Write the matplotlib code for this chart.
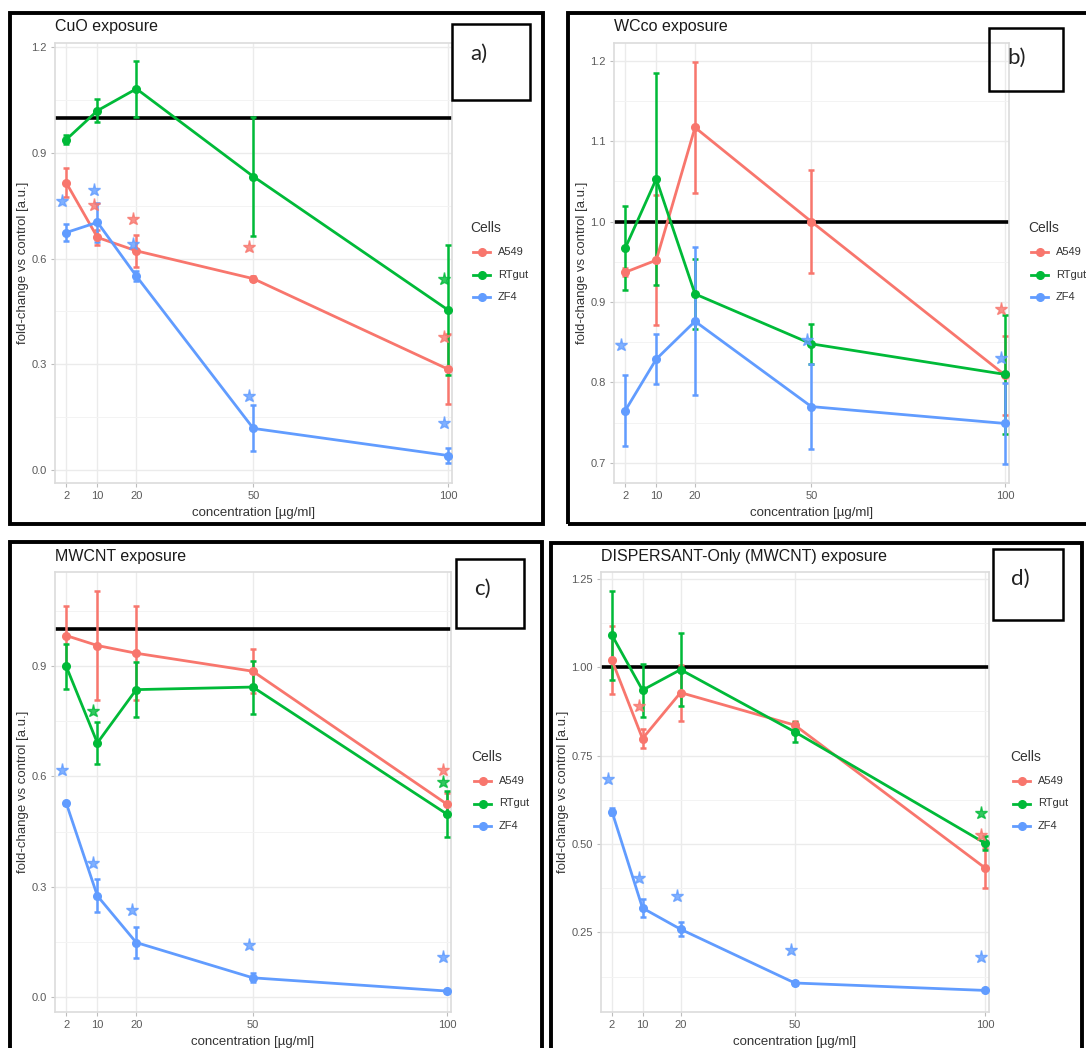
import matplotlib.pyplot as plt
from matplotlib.lines import Line2D
from matplotlib.patches import Rectangle

plt.rcParams["font.family"] = ["Liberation Sans", "DejaVu Sans"]

CONC = [2, 10, 20, 50, 100]
CELLS = ["A549", "RTgut", "ZF4"]
COLORS = ["#F8766D", "#00BA38", "#619CFF"]

# mean fold-change per cell line (A549, RTgut, ZF4) and error half-widths
cuo_mean = [[0.815, 0.660, 0.622, 0.543, 0.286],
            [0.938, 1.020, 1.082, 0.833, 0.454],
            [0.674, 0.703, 0.550, 0.118, 0.041]]
cuo_err = [[0.041, 0.020, 0.045, 0.008, 0.100],
           [0.012, 0.033, 0.080, 0.170, 0.185],
           [0.024, 0.055, 0.015, 0.065, 0.020]]
cuo_stars = [(2, 1, 0.764), (2, 9, 0.794), (0, 9, 0.751), (0, 19, 0.713), (2, 19, 0.641),
             (0, 49, 0.634), (2, 49, 0.211), (1, 99, 0.542), (0, 99, 0.377), (2, 99, 0.132)]

wc_mean = [[0.937, 0.952, 1.117, 1.000, 0.809],
           [0.967, 1.053, 0.910, 0.848, 0.810],
           [0.765, 0.829, 0.876, 0.770, 0.749]]
wc_err = [[0.005, 0.081, 0.081, 0.064, 0.049],
          [0.052, 0.132, 0.044, 0.025, 0.074],
          [0.044, 0.031, 0.092, 0.053, 0.050]]
wc_stars = [(2, 1, 0.846), (2, 49, 0.853), (0, 99, 0.891), (2, 99, 0.831)]

mw_mean = [[0.983, 0.956, 0.935, 0.886, 0.524],
           [0.899, 0.691, 0.836, 0.843, 0.497],
           [0.527, 0.275, 0.148, 0.052, 0.016]]
mw_err = [[0.080, 0.147, 0.128, 0.060, 0.031],
          [0.062, 0.058, 0.074, 0.072, 0.062],
          [0.004, 0.045, 0.043, 0.012, 0.004]]
mw_stars = [(2, 1, 0.618), (1, 9, 0.779), (2, 9, 0.365), (2, 19, 0.237), (2, 49, 0.142),
            (0, 99, 0.616), (1, 99, 0.585), (2, 99, 0.109)]

ds_mean = [[1.019, 0.798, 0.928, 0.836, 0.432],
           [1.090, 0.935, 0.993, 0.817, 0.502],
           [0.591, 0.319, 0.259, 0.107, 0.086]]
ds_err = [[0.096, 0.028, 0.079, 0.012, 0.057],
          [0.125, 0.075, 0.104, 0.028, 0.020],
          [0.010, 0.026, 0.020, 0.006, 0.003]]
ds_stars = [(2, 1, 0.683), (0, 9, 0.890), (2, 9, 0.405), (2, 19, 0.352), (2, 49, 0.199),
            (1, 99, 0.589), (0, 99, 0.526), (2, 99, 0.180)]

TITLES = ["CuO exposure", "WCco exposure", "MWCNT exposure", "DISPERSANT-Only (MWCNT) exposure"]
LETTERS = ["a)", "b)", "c)", "d)"]

W, H = 1086, 1048
fig = plt.figure(figsize=(W / 100, H / 100), dpi=100)


def rect(l, t, r, b):
    return [l / W, 1 - b / H, (r - l) / W, (b - t) / H]


def box(l, t, r, b, lw):
    fig.add_artist(Rectangle((l / W, 1 - b / H), (r - l) / W, (b - t) / H, transform=fig.transFigure,
                             fill=False, edgecolor="black", linewidth=lw, clip_on=False))


panels = [
    dict(mean=cuo_mean, err=cuo_err, stars=cuo_stars, outer=(10, 13, 543, 524), plot=(55, 43, 452, 483),
         ylim=(-0.037, 1.212), yticks=[0.0, 0.3, 0.6, 0.9, 1.2], yminor=[0.15, 0.45, 0.75, 1.05], fmt="{:.1f}",
         label=(452, 24, 530, 100), leg=(470, 228), ylab=23),
    dict(mean=wc_mean, err=wc_err, stars=wc_stars, outer=(568, 13, 1092, 524), plot=(614, 43, 1009, 483),
         ylim=(0.675, 1.222), yticks=[0.7, 0.8, 0.9, 1.0, 1.1, 1.2], yminor=[0.75, 0.85, 0.95, 1.05, 1.15],
         fmt="{:.1f}", label=(989, 28, 1063, 91), leg=(1028, 228), ylab=582),
    dict(mean=mw_mean, err=mw_err, stars=mw_stars, outer=(10, 542, 542, 1054), plot=(55, 572, 451, 1012),
         ylim=(-0.041, 1.156), yticks=[0.0, 0.3, 0.6, 0.9], yminor=[0.15, 0.45, 0.75, 1.05], fmt="{:.1f}",
         label=(456, 559, 524, 628), leg=(471, 757), ylab=23),
    dict(mean=ds_mean, err=ds_err, stars=ds_stars, outer=(551, 543, 1082, 1054), plot=(601, 572, 989, 1012),
         ylim=(0.025, 1.269), yticks=[0.25, 0.5, 0.75, 1.0, 1.25], yminor=[0.125, 0.375, 0.625, 0.875, 1.125],
         fmt="{:.2f}", label=(993, 549, 1063, 620), leg=(1010, 757), ylab=563),
]

for i, p in enumerate(panels):
    box(*p["outer"], lw=2.8)
    ax = fig.add_axes(rect(*p["plot"]))
    ax.set_facecolor("white")
    ax.set_xlim(-0.9, 101)
    ax.set_ylim(*p["ylim"])
    ax.set_xticks(CONC)
    ax.set_xticklabels([str(c) for c in CONC])
    ax.set_yticks(p["yticks"])
    ax.set_yticklabels([p["fmt"].format(v) for v in p["yticks"]])
    ax.set_yticks(p["yminor"], minor=True)
    ax.grid(True, which="major", color="#EBEBEB", lw=1.0)
    ax.grid(True, which="minor", axis="y", color="#F3F3F3", lw=0.7)
    ax.set_axisbelow(True)
    for s in ax.spines.values():
        s.set_color("#DCDCDC")
        s.set_linewidth(1.2)
    ax.tick_params(which="major", length=3, width=0.8, color="#BDBDBD", labelsize=8, labelcolor="#5A5A5A", pad=3)
    ax.tick_params(which="minor", length=0)

    ax.axhline(1.0, color="black", lw=2.6, zorder=2)
    for c in range(3):
        ax.errorbar(CONC, p["mean"][c], yerr=p["err"][c], color=COLORS[c], lw=2.0, marker="o", ms=5.5,
                    elinewidth=1.8, capsize=2.5, capthick=1.8, zorder=3)
    for c, x, y in p["stars"]:
        ax.plot(x, y, marker="*", ms=9.5, color=COLORS[c], alpha=0.8, ls="none", zorder=4)

    ax.set_xlabel("concentration [µg/ml]", fontsize=9.5, color="#333333", labelpad=4)
    l, t, r, b = p["plot"]
    fig.text(p["ylab"] / W, 1 - (t + b) / 2 / H, "fold-change vs control [a.u.]", rotation=90,
             ha="center", va="center", fontsize=9.5, color="#333333")
    fig.text(l / W, 1 - (t - 16) / H, TITLES[i], fontsize=11.5, color="#1A1A1A", ha="left", va="center")

    bl, bt, br, bb = p["label"]
    box(bl, bt, br, bb, lw=1.8)
    fig.text((bl + 18) / W, 1 - (bt + 30) / H, LETTERS[i], fontsize=16, color="#222222",
             family=["Lato", "DejaVu Sans"], ha="left", va="center")

    lx, ly = p["leg"]
    fig.text(lx / W, 1 - ly / H, "Cells", fontsize=10, color="#333333", ha="left", va="center")
    for c in range(3):
        yy = 1 - (ly + 24 + 22.5 * c) / H
        fig.add_artist(Line2D([(lx + 3) / W, (lx + 20) / W], [yy, yy], transform=fig.transFigure,
                              color=COLORS[c], lw=2.0))
        fig.add_artist(Line2D([(lx + 11.5) / W], [yy], transform=fig.transFigure, color=COLORS[c],
                              marker="o", ms=5.5, ls="none"))
        fig.text((lx + 28) / W, yy, CELLS[c], fontsize=8, color="#333333", ha="left", va="center")

fig.savefig("out.png", dpi=100)
